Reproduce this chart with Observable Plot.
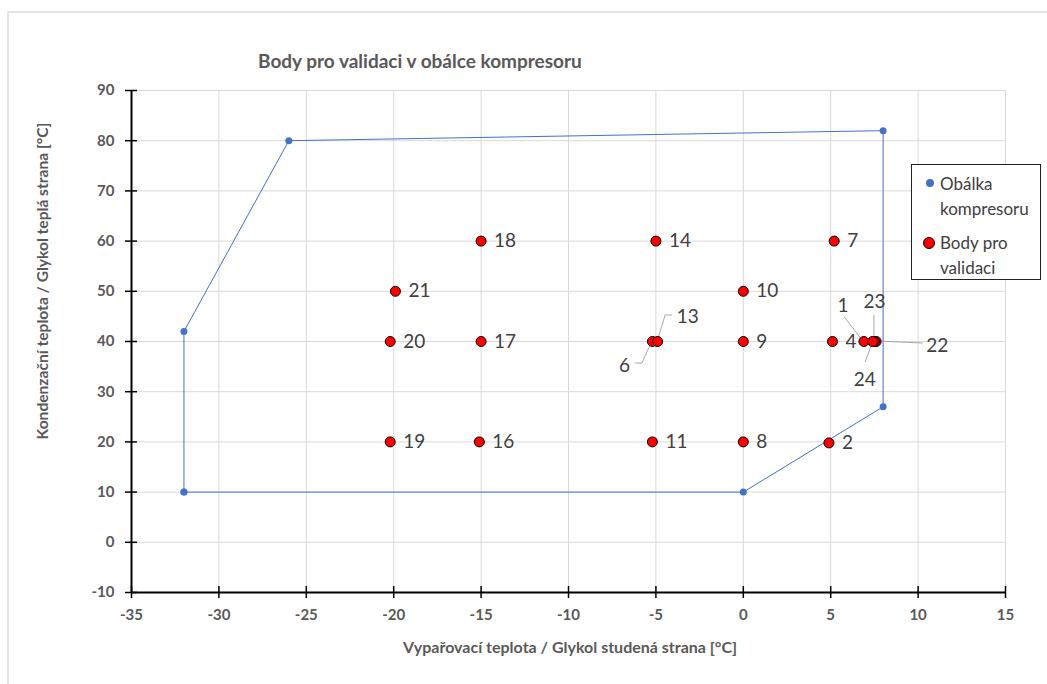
<!DOCTYPE html>
<html><head><meta charset="utf-8">
<script src="https://cdn.jsdelivr.net/npm/d3@7"></script>
<script src="https://cdn.jsdelivr.net/npm/@observablehq/plot@0.6"></script>
<style>
body{margin:0;background:#fff;font-family:Lato,"Open Sans",sans-serif;}
#wrap{position:relative;width:1047px;height:684px;overflow:hidden;background:#fff;}
#border{position:absolute;left:7px;top:11px;width:1100px;height:720px;border:2px solid #e4e4e4;box-sizing:border-box;}
#chart{position:absolute;left:0;top:0;}
.t{position:absolute;color:#595959;font-weight:bold;white-space:nowrap;}
#title{left:258px;top:49px;font-size:19px;}
#xtitle{left:403px;top:637px;font-size:16px;}
#ytitle{left:42px;top:281px;font-size:15.6px;transform:translate(-50%,-50%) rotate(-90deg);}
#legend{position:absolute;left:911px;top:164px;width:130px;height:116px;border:1px solid #222;background:#fff;box-sizing:border-box;}
.lg{position:absolute;left:28px;font-size:17px;color:#404040;line-height:25px;white-space:nowrap;}
.mk{position:absolute;border-radius:50%;box-sizing:border-box;}
</style></head><body>
<div id="wrap">
  <div id="border"></div>
  <div id="chart"></div>
  <div class="t" id="title">Body pro validaci v obálce kompresoru</div>
  <div class="t" id="xtitle">Vypařovací teplota / Glykol studená strana [°C]</div>
  <div class="t" id="ytitle">Kondenzační teplota / Glykol teplá strana [°C]</div>
  <div id="legend">
    <div class="mk" style="left:14px;top:14px;width:8px;height:8px;background:#4472C4;"></div>
    <div class="lg" style="top:6px;">Obálka<br>kompresoru</div>
    <div class="mk" style="left:11px;top:72px;width:12px;height:12px;background:#ff0000;border:1px solid #000;"></div>
    <div class="lg" style="top:65px;">Body pro<br>validaci</div>
  </div>
</div>
<script>
// Envelope (Obálka kompresoru)
const envelopeX = [-32, -32, -26, 8, 8, 0, -32];
const envelopeY = [10, 42, 80, 82, 27, 10, 10];
// Validation points (Body pro validaci)
const pointIds = [1, 2, 4, 6, 7, 8, 9, 10, 11, 13, 14, 16, 17, 18, 19, 20, 21, 22, 23, 24];
const pointX   = [6.9, 4.9, 5.1, -5.2, 5.2, 0, 0, 0, -5.2, -4.9, -5, -15.1, -15, -15, -20.2, -20.2, -19.9, 7.6, 7.5, 7.4];
const pointY   = [40, 19.8, 40, 40, 60, 20, 40, 50, 20, 40, 60, 20, 40, 60, 20, 40, 50, 40, 40, 40];
// Axis ticks
const xTicks = d3.range(-35, 16, 5);
const yTicks = d3.range(-10, 91, 10);

// Label layout (pixel offsets of callout labels and their leader lines)
const calloutLayout = {
  1:  {dx: -21, dy: -36, leader: [[-3, -3], [-19, -24]]},
  23: {dx: 0,   dy: -40, leader: [[0, -3], [0, -26]]},
  22: {dx: 61,  dy: 4,   leader: [[2, 0], [47, 2]]},
  24: {dx: -8,  dy: 38,  leader: [[0, 2], [-7, 21]]},
  13: {dx: 30,  dy: -25, leader: [[0, 0], [8, -26], [15, -26]]},
  6:  {dx: -28, dy: 24,  leader: [[0, 0], [-10, 22], [-17, 22]]}
};

const envelope = envelopeX.map((x, i) => ({x, y: envelopeY[i]}));
const points = pointIds.map((id, i) => ({id, x: pointX[i], y: pointY[i]}));

const labelStyle = {fontSize: 19, fill: "#404040", fontFamily: "Lato, 'Open Sans', sans-serif"};
const calloutMarks = Object.entries(calloutLayout).map(([id, o]) =>
  Plot.text(points.filter(p => p.id === +id), {x: "x", y: "y", text: d => String(d.id), dx: o.dx, dy: o.dy, textAnchor: "middle", ...labelStyle})
);

const plot = Plot.plot({
  width: 1047,
  height: 684,
  marginLeft: 131,
  marginRight: 42,
  marginTop: 90,
  marginBottom: 92,
  style: {fontFamily: "Lato, 'Open Sans', sans-serif", background: "transparent", overflow: "visible"},
  x: {domain: [-35, 15], label: null},
  y: {domain: [-10, 90], label: null},
  marks: [
    Plot.gridX(xTicks, {stroke: "#d9d9d9", strokeOpacity: 1}),
    Plot.gridY(yTicks, {stroke: "#d9d9d9", strokeOpacity: 1}),
    Plot.ruleX([-35], {stroke: "#000", strokeWidth: 2}),
    Plot.ruleY([-10], {stroke: "#000", strokeWidth: 2}),
    Plot.axisX(xTicks, {tickSize: 12, dy: -6, tickPadding: 11, stroke: "#000", fill: "#595959", fontSize: 15, fontWeight: "bold", strokeWidth: 1.5, tickFormat: d => String(d)}),
    Plot.axisY(yTicks, {tickSize: 12, dx: 6, tickPadding: 11, stroke: "#000", fill: "#595959", fontSize: 15, fontWeight: "bold", strokeWidth: 1.5, tickFormat: d => String(d)}),
    Plot.line(envelope, {x: "x", y: "y", stroke: "#4472C4", strokeWidth: 1}),
    Plot.dot(envelope, {x: "x", y: "y", r: 3.5, fill: "#4472C4", stroke: "none"}),
    Plot.dot(points, {x: "x", y: "y", r: 5, fill: "#ff0000", stroke: "#000", strokeWidth: 1}),
    Plot.text(points.filter(p => !(p.id in calloutLayout)), {x: "x", y: "y", text: d => String(d.id), dx: 13, textAnchor: "start", ...labelStyle}),
    ...calloutMarks
  ]
});

document.getElementById("chart").appendChild(plot);

// Leader lines for callout labels, positioned with the plot's own scales
const sx = plot.scale("x"), sy = plot.scale("y");
const svg = d3.select(plot);
const dotGroups = svg.selectAll('g[aria-label="dot"]').nodes();
const redDots = dotGroups[dotGroups.length - 1];
const g = d3.select(redDots.parentNode).insert("g", () => redDots)
  .attr("fill", "none").attr("stroke", "#a6a6a6").attr("stroke-width", 1);
for (const [id, o] of Object.entries(calloutLayout)) {
  const p = points.find(d => d.id === +id);
  const cx = sx.apply(p.x), cy = sy.apply(p.y);
  g.append("path").attr("d", d3.line()(o.leader.map(([a, b]) => [cx + a, cy + b])));
}
</script>
</body></html>
